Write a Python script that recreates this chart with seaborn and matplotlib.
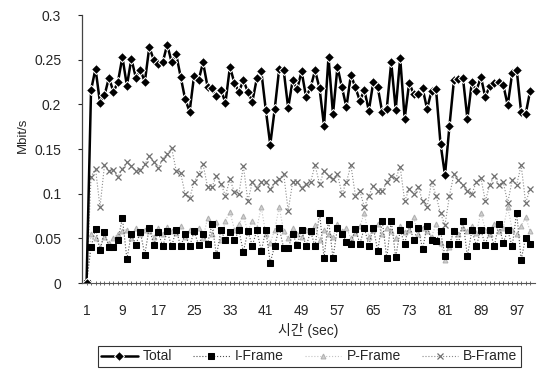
import numpy as np
import pandas as pd
import matplotlib
matplotlib.use("Agg")
import matplotlib.pyplot as plt
import seaborn as sns

sec = list(range(1, 101))

total = [0,
 0.216, 0.240, 0.202, 0.210, 0.230, 0.214, 0.225, 0.253, 0.221, 0.251,
 0.230, 0.239, 0.225, 0.264, 0.250, 0.245, 0.247, 0.267, 0.247, 0.256,
 0.231, 0.206, 0.192, 0.232, 0.227, 0.247, 0.220, 0.218, 0.209, 0.216,
 0.202, 0.242, 0.224, 0.214, 0.227, 0.214, 0.203, 0.229, 0.237, 0.194,
 0.155, 0.195, 0.240, 0.238, 0.196,
 0.227, 0.217, 0.237, 0.208, 0.219, 0.238, 0.218, 0.176, 0.253, 0.189,
 0.242, 0.219, 0.197, 0.233, 0.219, 0.204, 0.216, 0.193, 0.225, 0.219,
 0.191, 0.195, 0.247, 0.194, 0.252, 0.184, 0.224, 0.212, 0.212, 0.218,
 0.195, 0.215, 0.217, 0.156, 0.121, 0.176, 0.227, 0.228, 0.230, 0.184,
 0.225, 0.215, 0.231, 0.208, 0.221, 0.224, 0.225, 0.222, 0.199, 0.235,
 0.239, 0.191, 0.189, 0.215]

i_frame = [0,
 0.040, 0.061, 0.037, 0.057, 0.040, 0.040, 0.048, 0.073, 0.027, 0.055,
 0.043, 0.057, 0.032, 0.062, 0.043, 0.057, 0.041, 0.058, 0.041, 0.060,
 0.041, 0.055, 0.041, 0.058, 0.043, 0.055, 0.044, 0.066, 0.031, 0.059,
 0.048, 0.057, 0.048, 0.059, 0.035, 0.058, 0.042, 0.059, 0.036, 0.059,
 0.023, 0.042, 0.062, 0.039, 0.039,
 0.055, 0.043, 0.059, 0.041, 0.058, 0.041, 0.079, 0.028, 0.071, 0.028,
 0.062, 0.055, 0.046, 0.044, 0.061, 0.044, 0.062, 0.042, 0.062, 0.036,
 0.070, 0.028, 0.070, 0.029, 0.059, 0.044, 0.066, 0.048, 0.062, 0.038,
 0.064, 0.048, 0.047, 0.058, 0.030, 0.044, 0.058, 0.044, 0.070, 0.030,
 0.059, 0.042, 0.059, 0.043, 0.059, 0.041, 0.066, 0.045, 0.059, 0.041,
 0.079, 0.026, 0.051, 0.044]

p_frame = [0,
 0.055, 0.050, 0.040, 0.052, 0.045, 0.050, 0.055, 0.058, 0.060, 0.050,
 0.062, 0.055, 0.060, 0.058, 0.052, 0.062, 0.055, 0.063, 0.058, 0.056,
 0.064, 0.052, 0.060, 0.057, 0.062, 0.050, 0.073, 0.055, 0.068, 0.048,
 0.070, 0.080, 0.060, 0.066, 0.075, 0.058, 0.070, 0.062, 0.085, 0.055,
 0.045, 0.060, 0.085, 0.058, 0.050,
 0.062, 0.055, 0.052, 0.060, 0.057, 0.065, 0.048, 0.060, 0.055, 0.052,
 0.066, 0.058, 0.062, 0.050, 0.056, 0.064, 0.078, 0.052, 0.060, 0.066,
 0.055, 0.062, 0.058, 0.050, 0.064, 0.057, 0.060, 0.074, 0.055, 0.062,
 0.058, 0.052, 0.066, 0.045, 0.026, 0.040, 0.060, 0.055, 0.062, 0.058,
 0.064, 0.056, 0.079, 0.060, 0.055, 0.066, 0.058, 0.062, 0.085, 0.060,
 0.055, 0.064, 0.074, 0.058]

b_frame = [0,
 0.119, 0.128, 0.085, 0.132, 0.126, 0.127, 0.119, 0.128, 0.135, 0.131,
 0.126, 0.127, 0.133, 0.142, 0.136, 0.129, 0.139, 0.145, 0.151, 0.126,
 0.123, 0.100, 0.095, 0.113, 0.122, 0.133, 0.108, 0.108, 0.120, 0.111,
 0.098, 0.116, 0.102, 0.100, 0.131, 0.092, 0.113, 0.107, 0.113, 0.113,
 0.105, 0.113, 0.117, 0.122, 0.081,
 0.113, 0.113, 0.107, 0.111, 0.113, 0.132, 0.111, 0.125, 0.120, 0.117,
 0.122, 0.100, 0.113, 0.132, 0.098, 0.103, 0.085, 0.098, 0.109, 0.103,
 0.103, 0.113, 0.120, 0.117, 0.130, 0.092, 0.105, 0.100, 0.108, 0.092,
 0.085, 0.113, 0.098, 0.078, 0.065, 0.098, 0.122, 0.115, 0.110, 0.103,
 0.100, 0.113, 0.118, 0.092, 0.110, 0.120, 0.110, 0.113, 0.090, 0.115,
 0.110, 0.132, 0.090, 0.105]

x_tick_labels = [str(v) for v in range(1, 98, 8)]
y_ticks = [0, 0.05, 0.1, 0.15, 0.2, 0.25, 0.3]
y_tick_labels = ["0", "0.05", "0.1", "0.15", "0.2", "0.25", "0.3"]

df = pd.DataFrame({"sec": sec, "Total": total, "I-Frame": i_frame,
                   "P-Frame": p_frame, "B-Frame": b_frame})

sns.set_style("white")
plt.rcParams["font.family"] = ["Liberation Sans", "Noto Sans CJK KR", "DejaVu Sans"]

fig = plt.figure(figsize=(5.4, 3.76), dpi=100)
ax = fig.add_axes([0.152, 0.247, 0.838, 0.713])

styles = {
    "Total":   dict(color="black", marker="D", markersize=4.8, linewidth=1.8, linestyle="-"),
    "I-Frame": dict(color="#505050", marker="s", markersize=5, linewidth=0.8, linestyle=":",
                    markerfacecolor="black", markeredgecolor="black"),
    "P-Frame": dict(color="#c4c4c4", marker="^", markersize=3.5, linewidth=0.8, linestyle=":",
                    markerfacecolor="#d0d0d0", markeredgecolor="#b0b0b0"),
    "B-Frame": dict(color="#8a8a8a", marker="x", markersize=5, linewidth=0.8, linestyle=":",
                    markeredgecolor="#707070", markeredgewidth=0.9),
}
order = ["B-Frame", "P-Frame", "I-Frame", "Total"]
for name in order:
    sns.lineplot(data=df, x="sec", y=name, ax=ax, label=name, **styles[name])

ax.set_xlim(0, 101)
ax.set_ylim(0, 0.3)
ax.set_xticks(list(range(1, 98, 8)))
ax.set_xticklabels(x_tick_labels)
ax.set_xticks(sec, minor=True)
ax.set_yticks(y_ticks)
ax.set_yticklabels(y_tick_labels)

for s in ["top", "right"]:
    ax.spines[s].set_visible(False)
ax.spines["left"].set_linewidth(0.9)
ax.spines["left"].set_color("#444444")
ax.spines["left"].set_linestyle((0, (1, 1)))
ax.spines["bottom"].set_linewidth(0.8)
ax.spines["bottom"].set_color("#555555")

ax.tick_params(axis="y", which="major", length=3, width=0.8, direction="out",
               labelsize=10, pad=12, left=True)
ax.tick_params(axis="x", which="both", length=3.5, width=0.6, direction="inout",
               labelsize=10, pad=13, bottom=True, color="#555555")

ax.set_xlabel("시간 (sec)", fontsize=10, labelpad=4)
ax.set_ylabel("Mbit/s", fontsize=9.5, labelpad=10)
ax.yaxis.set_label_coords(-0.118, 0.55)

ax.get_legend().remove()
handles, labels = ax.get_legend_handles_labels()
hmap = dict(zip(labels, handles))
leg_order = ["Total", "I-Frame", "P-Frame", "B-Frame"]
leg = fig.legend([hmap[k] for k in leg_order], leg_order, loc="center",
                 bbox_to_anchor=(0.573, 0.052), ncol=4, frameon=True,
                 fancybox=False, edgecolor="black", fontsize=10,
                 handlelength=2.6, handletextpad=0.4, columnspacing=1.5,
                 borderpad=0.25)
leg.get_frame().set_linewidth(0.8)

fig.savefig("out.png", dpi=100)
